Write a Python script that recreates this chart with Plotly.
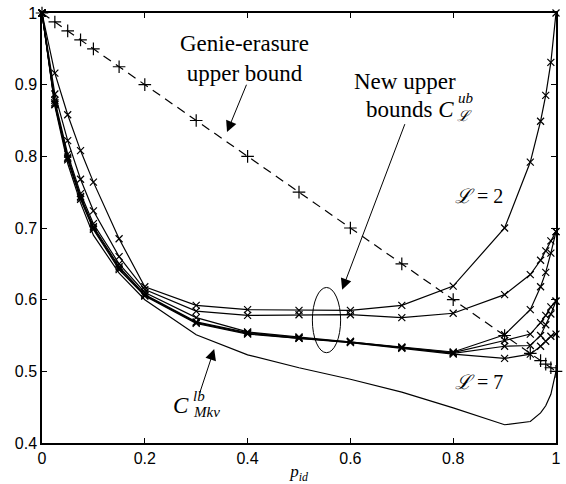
import plotly.graph_objects as go

# p_id grid used for all curves
p_id = [0, 0.025, 0.05, 0.075, 0.1, 0.15, 0.2, 0.3, 0.4, 0.5, 0.6, 0.7, 0.8,
        0.9, 0.95, 0.97, 0.98, 0.99, 1]

genie = [1, 0.9875, 0.975, 0.9625, 0.95, 0.925, 0.9, 0.85, 0.8, 0.75, 0.7, 0.65,
         0.6, 0.55, 0.525, 0.515, 0.51, 0.505, 0.5]

# upper bounds C_L^ub, L = 2..7
ub_L2 = [1, 0.916, 0.858, 0.808, 0.764, 0.685, 0.618, 0.592, 0.586, 0.585, 0.585,
         0.592, 0.619, 0.700, 0.792, 0.849, 0.885, 0.931, 1.0]
ub_L3 = [1, 0.887, 0.822, 0.768, 0.724, 0.660, 0.614, 0.584, 0.578, 0.579, 0.579,
         0.575, 0.581, 0.607, 0.635, 0.655, 0.668, 0.682, 0.695]
ub_L4 = [1, 0.878, 0.803, 0.748, 0.706, 0.650, 0.610, 0.575, 0.555, 0.548, 0.542,
         0.534, 0.527, 0.551, 0.586, 0.618, 0.638, 0.665, 0.695]
ub_L5 = [1, 0.875, 0.799, 0.744, 0.702, 0.646, 0.607, 0.569, 0.554, 0.547, 0.541,
         0.533, 0.526, 0.543, 0.552, 0.568, 0.578, 0.590, 0.598]
ub_L6 = [1, 0.873, 0.797, 0.742, 0.700, 0.644, 0.606, 0.568, 0.553, 0.546, 0.541,
         0.533, 0.525, 0.535, 0.536, 0.550, 0.565, 0.580, 0.598]
ub_L7 = [1, 0.872, 0.795, 0.740, 0.698, 0.642, 0.605, 0.567, 0.552, 0.546, 0.540,
         0.532, 0.524, 0.518, 0.524, 0.535, 0.542, 0.549, 0.552]

# Markov lower bound C_Mkv^lb
lb_mkv = [1, 0.870, 0.790, 0.735, 0.690, 0.637, 0.600, 0.551, 0.523, 0.505, 0.489,
          0.471, 0.449, 0.4255, 0.430, 0.442, 0.452, 0.468, 0.5]

serif = "Liberation Serif"

fig = go.Figure()

fig.add_trace(go.Scatter(x=p_id, y=lb_mkv, mode="lines",
                         line=dict(color="black", width=1.2)))

for ub in [ub_L7, ub_L6, ub_L5, ub_L4, ub_L3, ub_L2]:
    fig.add_trace(go.Scatter(x=p_id, y=ub, mode="lines+markers",
                             line=dict(color="black", width=1.2),
                             marker=dict(symbol="x-thin", size=7,
                                         line=dict(color="black", width=1.2))))

fig.add_trace(go.Scatter(x=p_id, y=genie, mode="lines+markers",
                         line=dict(color="black", width=1.2, dash="9px,6px"),
                         marker=dict(symbol="cross-thin", size=9,
                                     line=dict(color="black", width=1.2))))

fig.update_traces(cliponaxis=False)

# ellipse around the upper bounds
fig.add_shape(type="circle", xref="x", yref="y", x0=0.526, x1=0.581, y0=0.526, y1=0.617,
              line=dict(color="black", width=1))

big = dict(family=serif, size=23, color="black")
small = dict(family=serif, size=15, color="black")
fig.add_annotation(x=0.393, y=0.937, text="Genie-erasure<br>upper bound", align="center",
                   showarrow=False, font=big)
fig.add_annotation(x=0.603, y=0.905, text="New upper", xanchor="left", showarrow=False, font=big)
fig.add_annotation(x=0.806, y=0.866, text="bounds <i>C</i>", xanchor="right", showarrow=False, font=big)
fig.add_annotation(x=0.806, y=0.881, text="<i>ub</i>", xanchor="left", showarrow=False, font=small)
fig.add_annotation(x=0.804, y=0.856, text="<i>ℒ</i>", xanchor="left", showarrow=False, font=small)
fig.add_annotation(x=0.85, y=0.745, text="<i>ℒ</i> = 2", showarrow=False,
                   font=dict(family=serif, size=20, color="black"))
fig.add_annotation(x=0.85, y=0.485, text="<i>ℒ</i> = 7", showarrow=False,
                   font=dict(family=serif, size=20, color="black"))
fig.add_annotation(x=0.290, y=0.452, text="<i>C</i>", xanchor="right", showarrow=False, font=big)
fig.add_annotation(x=0.290, y=0.466, text="<i>lb</i>", xanchor="left", showarrow=False, font=small)
fig.add_annotation(x=0.290, y=0.443, text="<i>Mkv</i>", xanchor="left", showarrow=False, font=small)

arrow = dict(text="", showarrow=True, arrowhead=2, arrowsize=2.2, arrowwidth=1,
             arrowcolor="black", axref="x", ayref="y")
fig.add_annotation(x=0.36, y=0.834, ax=0.399, ay=0.902, **arrow)
fig.add_annotation(x=0.584, y=0.614, ax=0.707, ay=0.847, **arrow)
fig.add_annotation(x=0.335, y=0.531, ax=0.306, ay=0.468, **arrow)

axis = dict(showline=True, linecolor="black", linewidth=1.5, mirror="allticks",
            ticks="inside", ticklen=5, tickcolor="black", showgrid=False, zeroline=False,
            tickfont=dict(family="Liberation Sans", size=16, color="black"))
fig.update_xaxes(range=[0, 1], tickvals=[0, 0.2, 0.4, 0.6, 0.8, 1],
                 ticktext=["0", "0.2", "0.4", "0.6", "0.8", "1"],
                 title=dict(text="<i>p</i><sub><i>id</i></sub>", standoff=0,
                            font=dict(family=serif, size=17, color="black")), **axis)
fig.update_yaxes(range=[0.4, 1], tickvals=[0.4, 0.5, 0.6, 0.7, 0.8, 0.9, 1],
                 ticktext=["0.4", "0.5", "0.6", "0.7", "0.8", "0.9", "1"], **axis)

fig.update_layout(width=566, height=484, showlegend=False,
                  margin=dict(l=42, r=5, t=10, b=41),
                  plot_bgcolor="white", paper_bgcolor="white")

fig.write_html("out.html", config={"displayModeBar": False},
               post_script="document.body.style.margin='0';")
